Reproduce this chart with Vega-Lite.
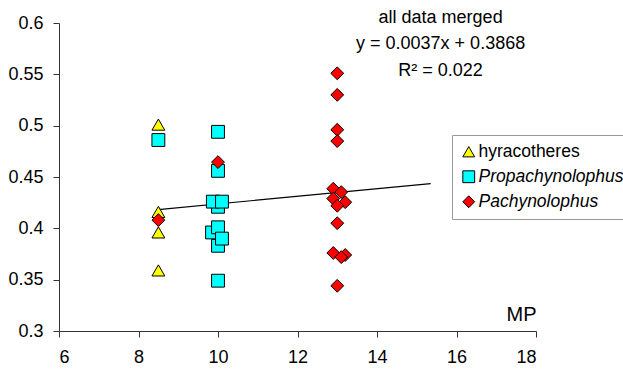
{
  "$schema": "https://vega.github.io/schema/vega-lite/v6.json",
  "width": 477,
  "height": 308,
  "autosize": "none",
  "padding": {"left": 59, "top": 23, "right": 87, "bottom": 40},
  "background": "white",
  "config": {"font": "Liberation Sans", "view": {"stroke": null}},
  "layer": [
    {
      "data": {"values": [{"MP": 8.5, "fit": 0.41825}, {"MP": 15.35, "fit": 0.44360}]},
      "mark": {"type": "line", "color": "black", "strokeWidth": 1.2},
      "encoding": {
        "x": {"field": "MP", "type": "quantitative",
          "scale": {"domain": [6, 18], "nice": false, "zero": false},
          "axis": {"values": [6, 8, 10, 12, 14, 16, 18], "grid": false, "labelFontSize": 18, "labelColor": "black", "tickSize": 6, "labelPadding": 11, "domainColor": "#333", "tickColor": "#333", "title": "MP", "titleAnchor": "end", "titleAlign": "right", "titleBaseline": "alphabetic", "titleY": -10.5, "titleX": 477, "titleFontSize": 20, "titleFontWeight": "normal", "titleColor": "black"}},
        "y": {"field": "fit", "type": "quantitative",
          "scale": {"domain": [0.3, 0.6], "nice": false, "zero": false},
          "axis": {"values": [0.3, 0.35, 0.4, 0.45, 0.5, 0.55, 0.6], "format": ".2~f", "grid": false, "labelFontSize": 18, "labelColor": "black", "tickSize": 6, "labelPadding": 10, "domainColor": "#333", "tickColor": "#333", "title": null}}
      }
    },
    {
      "data": {"values": [
        {"MP": 8.5, "value": 0.501, "group": "hyracotheres"},
        {"MP": 8.5, "value": 0.416, "group": "hyracotheres"},
        {"MP": 8.5, "value": 0.396, "group": "hyracotheres"},
        {"MP": 8.5, "value": 0.359, "group": "hyracotheres"},
        {"MP": 8.5, "value": 0.486, "group": "Propachynolophus"},
        {"MP": 10.0, "value": 0.494, "group": "Propachynolophus"},
        {"MP": 10.0, "value": 0.456, "group": "Propachynolophus"},
        {"MP": 10.0, "value": 0.421, "group": "Propachynolophus"},
        {"MP": 9.87, "value": 0.426, "group": "Propachynolophus"},
        {"MP": 10.1, "value": 0.426, "group": "Propachynolophus"},
        {"MP": 10.0, "value": 0.383, "group": "Propachynolophus"},
        {"MP": 9.85, "value": 0.396, "group": "Propachynolophus"},
        {"MP": 10.0, "value": 0.401, "group": "Propachynolophus"},
        {"MP": 10.1, "value": 0.390, "group": "Propachynolophus"},
        {"MP": 10.0, "value": 0.349, "group": "Propachynolophus"},
        {"MP": 8.5, "value": 0.408, "group": "Pachynolophus"},
        {"MP": 10.0, "value": 0.4645, "group": "Pachynolophus"},
        {"MP": 13.0, "value": 0.551, "group": "Pachynolophus"},
        {"MP": 13.0, "value": 0.530, "group": "Pachynolophus"},
        {"MP": 13.0, "value": 0.496, "group": "Pachynolophus"},
        {"MP": 13.0, "value": 0.485, "group": "Pachynolophus"},
        {"MP": 12.9, "value": 0.4386, "group": "Pachynolophus"},
        {"MP": 13.1, "value": 0.4353, "group": "Pachynolophus"},
        {"MP": 12.9, "value": 0.429, "group": "Pachynolophus"},
        {"MP": 13.2, "value": 0.4255, "group": "Pachynolophus"},
        {"MP": 13.0, "value": 0.422, "group": "Pachynolophus"},
        {"MP": 13.0, "value": 0.405, "group": "Pachynolophus"},
        {"MP": 12.9, "value": 0.376, "group": "Pachynolophus"},
        {"MP": 13.2, "value": 0.374, "group": "Pachynolophus"},
        {"MP": 13.1, "value": 0.372, "group": "Pachynolophus"},
        {"MP": 13.0, "value": 0.344, "group": "Pachynolophus"}
      ]},
      "mark": {"type": "point", "filled": true, "stroke": "black", "strokeWidth": 1, "opacity": 1, "size": 165},
      "encoding": {
        "x": {"field": "MP", "type": "quantitative"},
        "y": {"field": "value", "type": "quantitative"},
        "fill": {"field": "group", "type": "nominal",
          "scale": {"domain": ["hyracotheres", "Propachynolophus", "Pachynolophus"], "range": ["#FFFF00", "#00FFFF", "#FF0000"]},
          "legend": {"orient": "none", "legendX": 393, "legendY": 112, "title": null, "strokeColor": "#999", "fillColor": "white", "padding": 8, "labelFontSize": 17.5, "labelColor": "black", "symbolSize": 140, "symbolStrokeColor": "black", "symbolStrokeWidth": 1, "rowPadding": 6, "labelOffset": 1, "labelLimit": 300, "labelFontStyle": {"expr": "datum.value == 'hyracotheres' ? 'normal' : 'italic'"}}},
        "shape": {"field": "group", "type": "nominal",
          "scale": {"domain": ["hyracotheres", "Propachynolophus", "Pachynolophus"], "range": ["triangle-up", "square", "diamond"]}}
      }
    },
    {
      "data": {"values": [{}]},
      "mark": {"type": "text", "align": "center", "baseline": "top", "fontSize": 18, "lineHeight": 26.5, "color": "black"},
      "encoding": {
        "x": {"datum": 15.6},
        "y": {"datum": 0.614},
        "text": {"value": ["all data merged", "y = 0.0037x + 0.3868", "R² = 0.022"]}
      }
    }
  ]
}
